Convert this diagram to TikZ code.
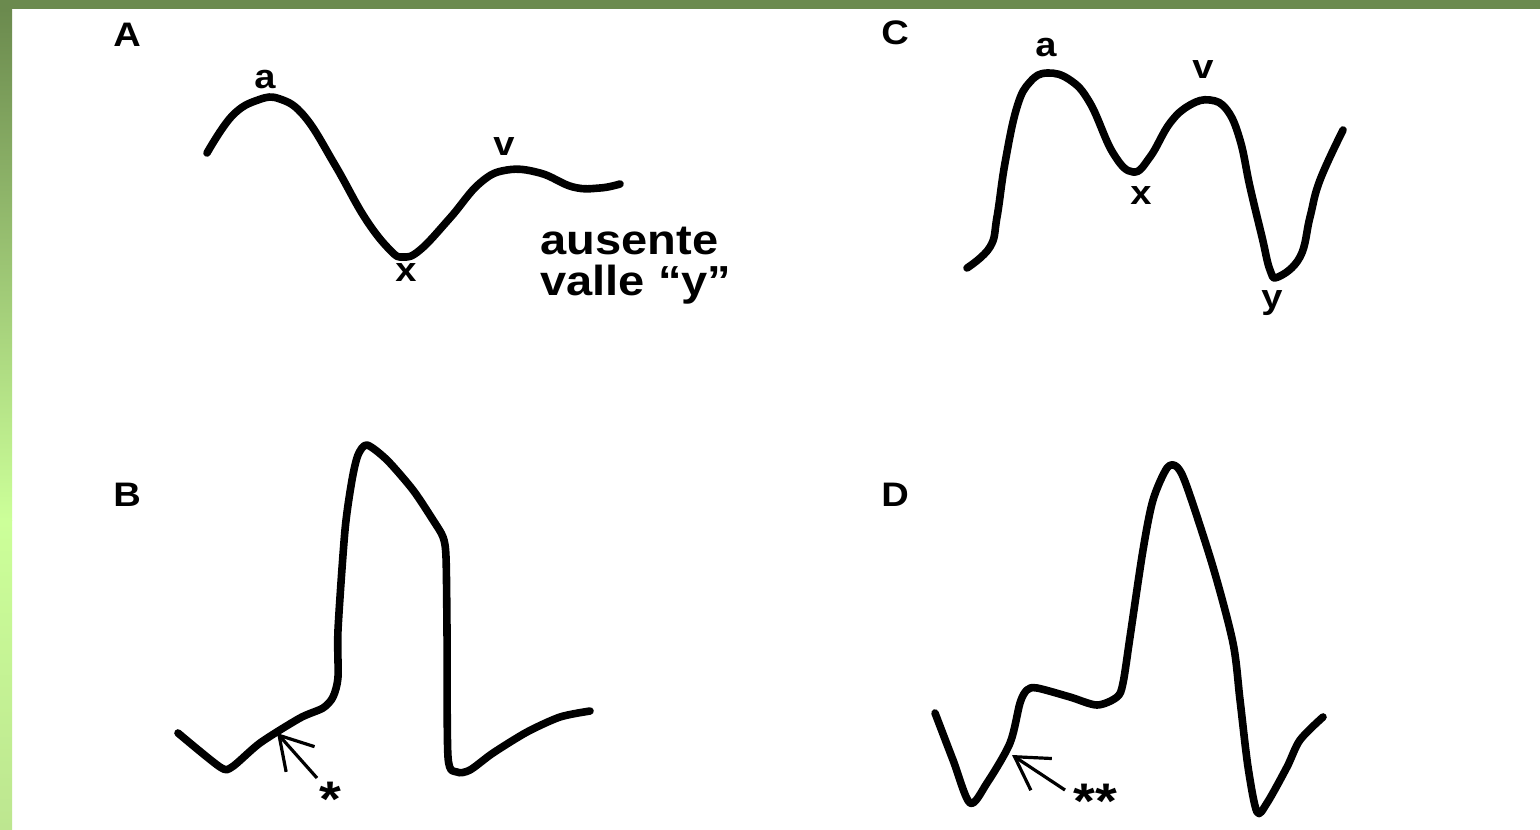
\documentclass[tikz,border=0pt]{standalone}
\usepackage{fontspec}
\setmainfont{Liberation Sans}[FakeStretch=1.12]
\usetikzlibrary{arrows.meta}
\definecolor{barDark}{HTML}{6B8A4E}
\definecolor{barLight}{HTML}{CCFF99}
\definecolor{barEnd}{HTML}{BDE690}
\begin{document}
\begin{tikzpicture}[x=0.5pt,y=-0.5pt,
  wave/.style={line width=3.8pt, line cap=round, line join=round},
  lbl/.style={font=\bfseries\fontsize{17}{20}\selectfont, inner sep=0pt},
  starlbl/.style={font=\bfseries\fontsize{25}{28}\selectfont, inner sep=0pt, anchor=base},
  big/.style={font=\bfseries\fontsize{21}{20.5}\selectfont, inner sep=0pt, align=left},
  pointer/.style={line width=1.6pt, -{Straight Barb[length=16pt,width=19pt,line width=1.6pt]}}]
\useasboundingbox (0,0) rectangle (1540,829);
\fill[white] (0,0) rectangle (1540,829);
\fill[barDark] (0,0) rectangle (1540,9);
\shade[top color=barDark,bottom color=barLight] (0,9) rectangle (12,520);
\shade[top color=barLight,bottom color=barEnd] (0,520) rectangle (12,829);

% Panel A
\node[lbl] (labA) at (127,35) {A};
\draw[wave] plot[smooth,tension=0.7] coordinates {(207,153) (232,116) (258,100) (280,99) (305,117) (335,165) (365,218) (390,250) (403,257) (420,250) (450,218) (480,183) (507,170) (540,173) (573,187) (600,188) (620,184)};
\node[lbl] (aA) at (265,80) {a};
\node[lbl] (xA) at (406,273) {x};
\node[lbl] (vA) at (504,147) {v};
\node[big, anchor=north west] (noy) at (540,227) {ausente\\valle “y”};

% Panel C
\node[lbl] (labC) at (895,33) {C};
\draw[wave] plot[smooth,tension=0.7] coordinates {(967,268) (990,247) (997,217) (1005,163) (1017,107) (1030,82) (1047,73) (1070,80) (1090,103) (1113,153) (1133,172) (1150,157) (1170,123) (1190,105) (1210,100) (1227,110) (1240,140) (1250,187) (1262,237) (1270,270) (1278,277) (1300,257) (1310,217) (1320,180) (1343,130)};
\node[lbl] (aC) at (1046,48) {a};
\node[lbl] (vC) at (1203,70) {v};
\node[lbl] (xC) at (1141,196) {x};
\node[lbl] (yC) at (1272,303) {y};

% Panel B
\node[lbl] (labB) at (127,495) {B};
\draw[wave] plot[smooth,tension=0.45] coordinates {(178,733) (220,767) (232,767) (260,743) (300,718) (323,708) (333,697) (338,677) (338,630) (345,530) (352,480) (358,455) (367,445) (387,460) (413,490) (433,520) (443,537) (446,557) (447,630) (448,757) (457,772) (470,770) (493,753) (527,732) (560,717) (590,711)};
\coordinate (tipB) at (277,733);
\coordinate (tailB) at (317,778);
\draw[pointer] (tailB) -- (tipB);
\node[starlbl] (starB) at (330,816) {*};

% Panel D
\node[lbl] (labD) at (895,495) {D};
\draw[wave] plot[smooth,tension=0.5] coordinates {(935,713) (953,760) (970,803) (987,783) (1010,743) (1020,703) (1027,690) (1037,688) (1070,697) (1097,705) (1117,697) (1123,683) (1130,637) (1143,550) (1153,500) (1167,468) (1177,467) (1187,487) (1213,567) (1233,643) (1240,700) (1248,767) (1257,812) (1267,803) (1287,767) (1300,740) (1323,717)};
\coordinate (tipD) at (1012,755);
\coordinate (tailD) at (1065,790);
\draw[pointer] (tailD) -- (tipD);
\node[starlbl] (starD) at (1095,818) {**};
\end{tikzpicture}
\end{document}
